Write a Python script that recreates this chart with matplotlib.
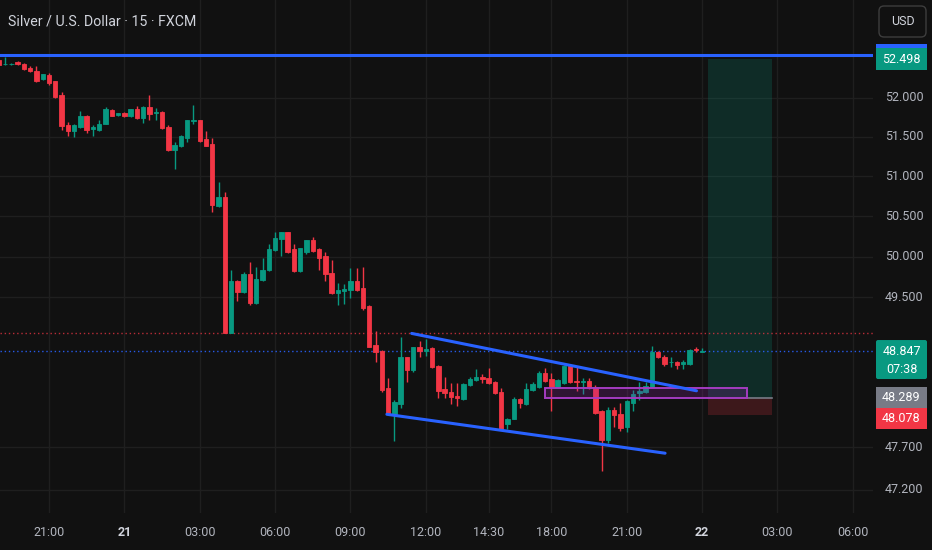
import matplotlib
matplotlib.use('Agg')
import matplotlib.pyplot as plt
from matplotlib.patches import Rectangle, FancyBboxPatch
from matplotlib.ticker import FixedLocator, NullLocator, NullFormatter
from matplotlib import font_manager as fm
import numpy as np

# ---------------- data ----------------
first_index = -8
opens = [52.49, 52.43, 52.43, 52.46, 52.44, 52.38, 52.34, 52.24, 52.29, 52.21,
         52.03, 51.65, 51.57, 51.62, 51.77, 51.60, 51.59, 51.67, 51.84, 51.78,
         51.81, 51.76, 51.85, 51.74, 51.88, 51.80, 51.82, 51.63, 51.33, 51.39,
         51.49, 51.70, 51.71, 51.47, 51.41, 50.63, 50.74, 49.07, 49.70, 49.56,
         49.79, 49.43, 49.71, 49.83, 50.08, 50.22, 50.30, 50.09, 49.82, 50.06,
         50.20, 50.09, 50.01, 49.80, 49.55, 49.58, 49.59, 49.70, 49.61, 49.39,
         48.92, 48.85, 48.40, 48.09, 48.21, 48.77, 48.62, 48.89, 48.85, 48.88,
         48.67, 48.39, 48.36, 48.31, 48.27, 48.44, 48.50, 48.54, 48.52, 48.48,
         48.36, 47.97, 48.04, 48.27, 48.21, 48.38, 48.41, 48.58, 48.51, 48.41,
         48.46, 48.67, 48.49, 48.47, 48.49, 48.42, 48.13, 47.79, 48.14, 48.09,
         47.94, 48.23, 48.34, 48.35, 48.42, 48.84, 48.78, 48.71, 48.72, 48.69,
         48.69, 48.87, 48.84]
highs = [52.50, 52.52, 52.45, 52.47, 52.45, 52.41, 52.41, 52.31, 52.32, 52.22,
         52.07, 51.69, 51.66, 51.83, 51.78, 51.65, 51.72, 51.88, 51.85, 51.81,
         51.82, 51.86, 51.89, 51.89, 52.03, 51.87, 51.83, 51.65, 51.43, 51.52,
         51.72, 51.91, 51.72, 51.57, 51.49, 50.93, 50.80, 49.84, 49.71, 49.81,
         49.93, 49.87, 49.98, 50.16, 50.30, 50.31, 50.31, 50.15, 50.11, 50.21,
         50.24, 50.11, 50.06, 49.96, 49.68, 49.66, 49.86, 49.86, 49.87, 49.40,
         49.09, 48.86, 48.52, 48.26, 49.02, 48.78, 48.90, 48.97, 48.99, 48.89,
         48.68, 48.54, 48.46, 48.46, 48.46, 48.53, 48.63, 48.57, 48.64, 48.49,
         48.40, 48.05, 48.29, 48.28, 48.46, 48.47, 48.61, 48.64, 48.58, 48.51,
         48.68, 48.69, 48.66, 48.52, 48.52, 48.44, 48.14, 48.18, 48.18, 48.23,
         48.26, 48.38, 48.48, 48.47, 48.91, 48.85, 48.80, 48.77, 48.73, 48.74,
         48.87, 48.89, 48.88]
lows = [52.41, 52.42, 52.42, 52.42, 52.36, 52.33, 52.20, 52.23, 52.16, 52.00,
        51.59, 51.51, 51.50, 51.61, 51.55, 51.51, 51.58, 51.66, 51.76, 51.76,
        51.75, 51.75, 51.73, 51.68, 51.71, 51.72, 51.60, 51.32, 51.09, 51.37,
        51.44, 51.67, 51.44, 51.38, 50.55, 50.61, 49.06, 49.06, 49.46, 49.55,
        49.41, 49.42, 49.70, 49.82, 50.07, 50.01, 50.05, 49.81, 49.81, 50.03,
        50.06, 49.83, 49.70, 49.54, 49.41, 49.42, 49.49, 49.58, 49.35, 48.89,
        48.72, 48.35, 48.09, 47.77, 48.17, 48.47, 48.60, 48.78, 48.79, 48.64,
        48.28, 48.28, 48.21, 48.19, 48.26, 48.43, 48.49, 48.46, 48.45, 48.33,
        47.90, 47.91, 48.03, 48.16, 48.20, 48.37, 48.40, 48.48, 48.13, 48.40,
        48.45, 48.46, 48.37, 48.33, 48.39, 48.09, 47.42, 47.75, 47.94, 47.89,
        47.88, 48.13, 48.26, 48.34, 48.41, 48.76, 48.67, 48.66, 48.63, 48.63,
        48.68, 48.84, 48.83]
closes = [52.42, 52.44, 52.44, 52.43, 52.37, 52.34, 52.22, 52.30, 52.19, 52.01,
          51.64, 51.57, 51.65, 51.76, 51.59, 51.62, 51.67, 51.85, 51.77, 51.80,
          51.76, 51.85, 51.74, 51.88, 51.79, 51.82, 51.61, 51.33, 51.40, 51.51,
          51.72, 51.71, 51.45, 51.39, 50.64, 50.74, 49.07, 49.70, 49.56, 49.79,
          49.43, 49.72, 49.84, 50.09, 50.23, 50.30, 50.06, 49.82, 50.10, 50.20,
          50.07, 49.98, 49.78, 49.55, 49.59, 49.60, 49.70, 49.59, 49.37, 48.90,
          48.84, 48.38, 48.10, 48.24, 48.77, 48.62, 48.89, 48.85, 48.87, 48.65,
          48.37, 48.34, 48.30, 48.28, 48.45, 48.51, 48.54, 48.51, 48.46, 48.34,
          47.91, 48.04, 48.27, 48.22, 48.39, 48.45, 48.58, 48.49, 48.41, 48.50,
          48.67, 48.47, 48.47, 48.49, 48.40, 48.10, 47.79, 48.14, 48.08, 47.93,
          48.25, 48.33, 48.37, 48.43, 48.84, 48.77, 48.69, 48.72, 48.68, 48.71,
          48.86, 48.86, 48.847]

price_ticks = [52.0, 51.5, 51.0, 50.5, 50.0, 49.5, 47.7, 47.2]
time_tick_pos = [0, 12, 24, 36, 48, 60, 70, 80, 92, 104, 116, 128]
time_tick_labels = ['21:00', '21', '03:00', '06:00', '09:00', '12:00', '14:30',
                    '18:00', '21:00', '22', '03:00', '06:00']
day_labels = ['21', '22']

title = 'Silver / U.S. Dollar · 15 · FXCM'
currency = 'USD'
resistance_price = 52.55
target_price = 52.498
entry_price = 48.289
stop_price = 48.078
last_price = 48.847
countdown = '07:38'
prev_line_price = 49.07

upper_trend_x = [57.75, 103.1]
upper_trend_y = [49.06, 48.37]
lower_trend_x = [53.8, 98.1]
lower_trend_y = [48.09, 47.63]
zone_x = [79.0, 111.1]
zone_y = [48.28, 48.40]
position_x = [105.0, 115.1]

# ---------------- style ----------------
BG = '#111111'
GRID = '#1f1f1f'
TEXT = '#b2b5be'
UP = '#089981'
DOWN = '#f23645'
BLUE = '#2962ff'
PURPLE = '#9c27b0'

names = {f.name for f in fm.fontManager.ttflist}
if 'Liberation Sans Narrow' in names:
    FONT = ['Liberation Sans Narrow', 'DejaVu Sans']
    FS = 10.5
else:
    FONT = ['Roboto', 'DejaVu Sans']
    FS = 9.0
plt.rcParams['font.family'] = FONT

W, H = 932, 550
fig = plt.figure(figsize=(W / 100, H / 100), dpi=100, facecolor=BG)
PLOT_R = 873
PLOT_B = 513
ax = fig.add_axes([0, (H - PLOT_B) / H, PLOT_R / W, PLOT_B / H])
ax.set_facecolor(BG)
for s in ax.spines.values():
    s.set_visible(False)

ax.set_yscale('log')
ax.set_ylim(46.932, 53.27)
ax.set_xlim(-49 / 6.28, (PLOT_R - 49) / 6.28)
ax.yaxis.set_major_locator(FixedLocator(price_ticks))
ax.yaxis.set_minor_locator(NullLocator())
ax.yaxis.set_major_formatter(NullFormatter())
ax.yaxis.set_minor_formatter(NullFormatter())
ax.xaxis.set_major_locator(FixedLocator(time_tick_pos))
ax.xaxis.set_major_formatter(NullFormatter())
ax.tick_params(length=0)
ax.grid(True, color=GRID, lw=1)
ax.set_axisbelow(True)

# candles
idx = np.arange(first_index, first_index + len(opens))
o = np.array(opens); h = np.array(highs); l = np.array(lows); c = np.array(closes)
cols = np.where(c >= o, UP, DOWN)
ax.vlines(idx, l, h, colors=cols, lw=1, zorder=3)
ax.bar(idx, np.abs(c - o), bottom=np.minimum(o, c), width=0.7, color=cols,
       edgecolor=cols, lw=0.6, zorder=4)

# horizontal lines
ax.axhline(resistance_price, color=BLUE, lw=2.2, zorder=5)
ax.axhline(prev_line_price, color=DOWN, lw=1, ls=(0, (1, 2)), alpha=0.75, zorder=2)
ax.axhline(last_price, color=BLUE, lw=1, ls=(0, (1, 2)), alpha=0.9, zorder=2)

# trendlines
ax.plot(upper_trend_x, upper_trend_y, color=BLUE, lw=2.2, zorder=6, solid_capstyle='round')
ax.plot(lower_trend_x, lower_trend_y, color=BLUE, lw=2.2, zorder=6, solid_capstyle='round')

# long position box
ax.fill_between(position_x, entry_price, target_price, color=UP, alpha=0.2, lw=0, zorder=1)
ax.fill_between(position_x, stop_price, entry_price, color=DOWN, alpha=0.2, lw=0, zorder=1)
ax.plot(position_x, [entry_price, entry_price], color='#787b86', lw=1.2, zorder=2)

# purple zone
ax.add_patch(Rectangle((zone_x[0], zone_y[0]), zone_x[1] - zone_x[0], zone_y[1] - zone_y[0],
                       facecolor=PURPLE, alpha=0.22, lw=0, zorder=5))
ax.add_patch(Rectangle((zone_x[0], zone_y[0]), zone_x[1] - zone_x[0], zone_y[1] - zone_y[0],
                       facecolor='none', edgecolor='#a43cc0', lw=1.4, zorder=5))

# ---------------- overlay (pixel coords) ----------------
ov = fig.add_axes([0, 0, 1, 1], zorder=10)
ov.set_xlim(0, W); ov.set_ylim(H, 0); ov.axis('off'); ov.patch.set_alpha(0)


def py(price):
    return H - ax.transData.transform((0, price))[1]


def pxx(xv):
    return ax.transData.transform((xv, 50))[0]


ov.text(8, 22, title, color='#d1d4dc', fontsize=FS + 1.2, va='center', ha='left')

# price tick labels
for p in price_ticks:
    ov.text(885, py(p), f'{p:.3f}', color=TEXT, fontsize=FS, va='center', ha='left')

# time labels
for pos, lab in zip(time_tick_pos, time_tick_labels):
    bold = lab in day_labels
    ov.text(pxx(pos), 532, lab, color='#d1d4dc' if bold else TEXT, fontsize=FS,
            fontweight='bold' if bold else 'normal', ha='center', va='center')

# USD button
ov.add_patch(FancyBboxPatch((879, 6), 47, 31, boxstyle='round,pad=0,rounding_size=5',
                            facecolor=BG, edgecolor='#3d3d3d', lw=1))
ov.text(902.5, 21.5, currency, color='#d1d4dc', fontsize=FS, ha='center', va='center')

LX, LW = 876, 51
# resistance label (mostly hidden) + target label
yr = py(resistance_price)
ov.add_patch(Rectangle((LX, yr - 11), LW, 22, facecolor=BLUE, lw=0))
yt = py(target_price)
ov.add_patch(Rectangle((LX, yt - 11), LW, 22, facecolor=UP, lw=0))
ov.text(LX + LW / 2, yt, f'{target_price:.3f}', color='white', fontsize=FS,
        ha='center', va='center')

# last price label with countdown
yl = py(last_price)
ov.add_patch(FancyBboxPatch((LX, yl - 11), LW, 39, boxstyle='round,pad=0,rounding_size=2',
                            facecolor=UP, lw=0))
ov.text(LX + LW / 2, yl, f'{last_price:.3f}', color='white', fontsize=FS,
        ha='center', va='center')
ov.text(LX + LW / 2, yl + 18, countdown, color='white', fontsize=FS,
        ha='center', va='center')

# entry / stop labels
ye = py(entry_price)
ov.add_patch(Rectangle((LX, ye - 10.5), LW, 21, facecolor='#787b86', lw=0))
ov.text(LX + LW / 2, ye, f'{entry_price:.3f}', color='white', fontsize=FS,
        ha='center', va='center')
ys = max(py(stop_price), ye + 21)
ov.add_patch(Rectangle((LX, ys - 10.5), LW, 21, facecolor=DOWN, lw=0))
ov.text(LX + LW / 2, ys, f'{stop_price:.3f}', color='white', fontsize=FS,
        ha='center', va='center')

fig.savefig('out.png', dpi=100, facecolor=BG)
